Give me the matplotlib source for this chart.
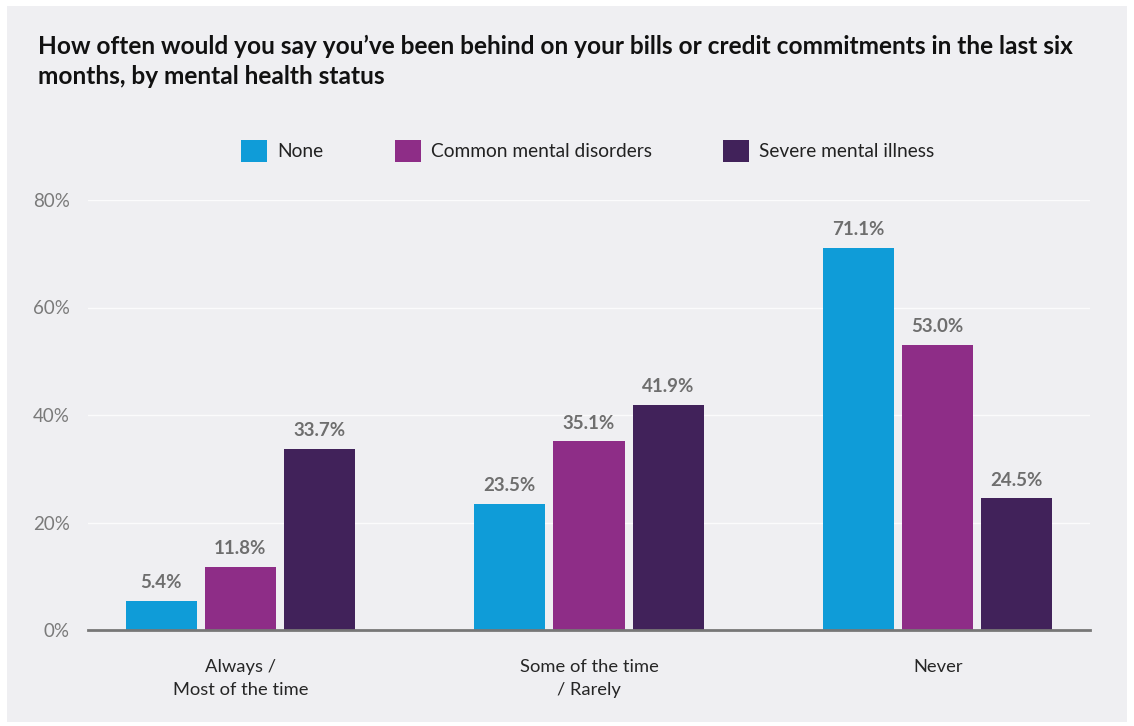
import numpy as np
import matplotlib.pyplot as plt
from matplotlib.patches import Rectangle

plt.rcParams['font.family'] = ['Lato', 'DejaVu Sans']

# Survey results (% of respondents)
categories = ["Always /\nMost of the time", "Some of the time\n/ Rarely", "Never"]
groups = ["None", "Common mental disorders", "Severe mental illness"]
none_vals = [5.4, 23.5, 71.1]
common_vals = [11.8, 35.1, 53.0]
severe_vals = [33.7, 41.9, 24.5]
yticks = [0, 20, 40, 60, 80]

colors = ["#0f9cd8", "#8e2d87", "#41225a"]
panel = "#efeff2"

fig = plt.figure(figsize=(11.34, 7.26), dpi=100, facecolor="white")
fig.patches.append(Rectangle((7 / 1134, 4 / 726), 1120 / 1134, 716 / 726,
                             transform=fig.transFigure, facecolor=panel,
                             edgecolor="none", zorder=-10))

ax = fig.add_axes([88 / 1134, 96 / 726, 1002 / 1134, 430 / 726])
ax.set_facecolor(panel)
ax.patch.set_alpha(0)

x = np.arange(len(categories))
width = 0.204
step = 0.227
series = [none_vals, common_vals, severe_vals]
for i, (vals, name, c) in enumerate(zip(series, groups, colors)):
    bars = ax.bar(x + (i - 1) * step, vals, width, color=c, label=name, zorder=3)
    for b, v in zip(bars, vals):
        ax.annotate(f"{v:.1f}%", (b.get_x() + b.get_width() / 2, v),
                    xytext=(0, 7), textcoords="offset points",
                    ha="center", va="bottom", fontsize=13.5,
                    fontweight="bold", color="#6e6e6e")

ax.set_xlim(-0.437, 2.437)
ax.set_ylim(0, 80)
ax.set_yticks(yticks)
ax.set_yticklabels([f"{t}%" for t in yticks])
ax.set_xticks(x)
ax.set_xticklabels(categories, fontsize=13.2, color="#262626", linespacing=1.5)
ax.tick_params(axis="y", length=0, pad=13, labelsize=13.5, labelcolor="#7a7a7a")
ax.tick_params(axis="x", length=0, pad=21)
ax.grid(axis="y", color="#fbfbfc", linewidth=1, zorder=0)
for s in ["top", "right", "left"]:
    ax.spines[s].set_visible(False)
ax.spines["bottom"].set_color("#777777")
ax.spines["bottom"].set_linewidth(2)
ax.spines["bottom"].set_zorder(4)

fig.text(38 / 1134, 1 - 35 / 726,
         "How often would you say you\u2019ve been behind on your bills or credit commitments in the last six\nmonths, by mental health status",
         ha="left", va="top", fontsize=17.6, fontweight="bold", color="#111111",
         linespacing=1.38)

leg = ax.legend(loc="center", bbox_to_anchor=(588 / 1134, 1 - 151 / 726),
                bbox_transform=fig.transFigure, ncol=3, frameon=False,
                fontsize=13.8, handlelength=1.35, handleheight=1.45,
                handletextpad=0.55, columnspacing=3.7, labelcolor="#222222")

fig.savefig("out.png", dpi=100, facecolor="white")
